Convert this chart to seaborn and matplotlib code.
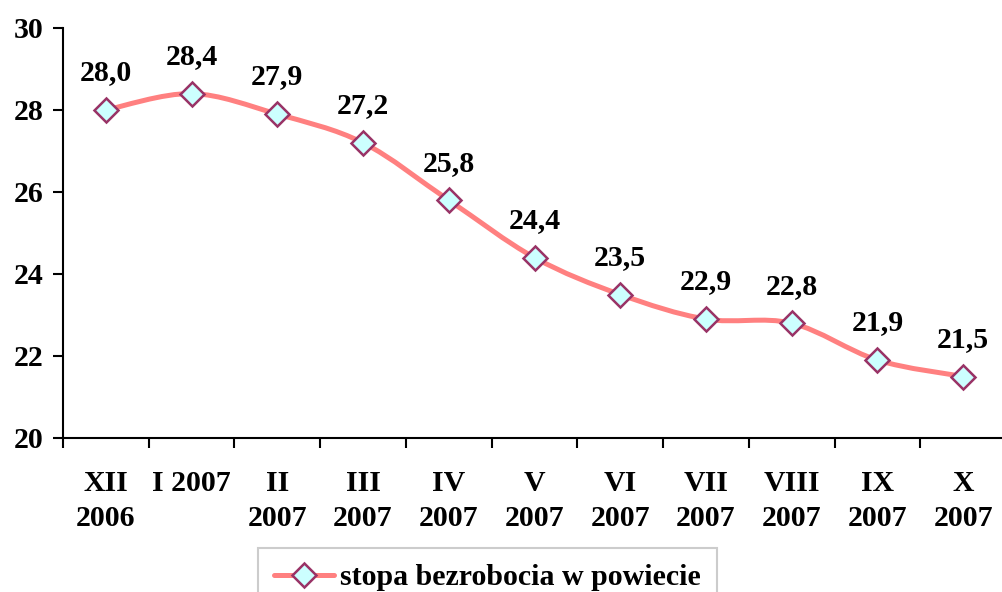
import numpy as np
import pandas as pd
import matplotlib
matplotlib.use("Agg")
import matplotlib.pyplot as plt
from matplotlib.path import Path
from matplotlib.patches import PathPatch
from matplotlib.lines import Line2D
import seaborn as sns

# Data
months = ["XII\n2006", "I 2007", "II\n2007", "III\n2007", "IV\n2007", "V\n2007",
          "VI\n2007", "VII\n2007", "VIII\n2007", "IX\n2007", "X\n2007"]
rate = [28.0, 28.4, 27.9, 27.2, 25.8, 24.4, 23.5, 22.9, 22.8, 21.9, 21.5]
value_labels = ["28,0", "28,4", "27,9", "27,2", "25,8", "24,4", "23,5", "22,9", "22,8", "21,9", "21,5"]
series_name = "stopa bezrobocia w powiecie"

df = pd.DataFrame({"pos": range(len(months)), "rate": rate})

sns.set_style("white")
plt.rcParams["font.family"] = ["Liberation Serif", "DejaVu Serif"]
plt.rcParams["font.weight"] = "bold"
plt.rcParams["text.color"] = "black"
plt.rcParams["xtick.color"] = "black"
plt.rcParams["ytick.color"] = "black"

line_color = "#FF8080"
face_color = "#CCFFFF"
edge_color = "#993366"
fs = 21.5

fig = plt.figure(figsize=(10.03, 5.92), dpi=100)
ax = fig.add_axes([63 / 1003, 154 / 592, 943 / 1003, 410 / 592])

# Smoothed line (Excel-style bezier through the points)
pts = df[["pos", "rate"]].to_numpy(dtype=float)
n = len(pts)
verts = [pts[0]]
codes = [Path.MOVETO]
for i in range(n - 1):
    p0 = pts[i - 1] if i > 0 else pts[i]
    p1 = pts[i]
    p2 = pts[i + 1]
    p3 = pts[i + 2] if i + 2 < n else pts[i + 1]
    c1 = p1 + (p2 - p0) / 6
    c2 = p2 - (p3 - p1) / 6
    verts += [c1, c2, p2]
    codes += [Path.CURVE4] * 3
ax.add_patch(PathPatch(Path(verts, codes), facecolor="none", edgecolor=line_color,
                       lw=3.6, capstyle="round", zorder=2))

sns.lineplot(data=df, x="pos", y="rate", ax=ax, linestyle="none", marker="D",
             markersize=12, markerfacecolor=face_color, markeredgecolor=edge_color,
             markeredgewidth=1.8, legend=False, zorder=3)

for x, y, lab in zip(df["pos"], df["rate"], value_labels):
    ax.annotate(lab, (x, y), xytext=(0, 17), textcoords="offset points",
                ha="center", va="bottom", fontsize=fs, fontweight="bold", color="black")

ax.set_xlim(-0.5, len(months) - 0.5)
ax.set_ylim(20, 30)
ax.set_yticks([20, 22, 24, 26, 28, 30])
ax.tick_params(axis="y", which="major", direction="out", length=7, width=1.5,
               pad=7, labelsize=fs, left=True)

# category boundaries as major ticks, labels on minor ticks
ax.set_xticks(np.arange(-0.5, len(months), 1.0))
ax.set_xticklabels([])
ax.set_xticks(np.arange(len(months)), minor=True)
ax.set_xticklabels(months, minor=True, fontsize=fs, fontweight="bold", linespacing=1.4)
ax.tick_params(axis="x", which="major", direction="out", length=7, width=1.5, bottom=True)
ax.tick_params(axis="x", which="minor", length=0, pad=23)
for t in ax.get_yticklabels():
    t.set_fontweight("bold")

ax.set_xlabel("")
ax.set_ylabel("")
sns.despine(ax=ax)
for s in ["left", "bottom"]:
    ax.spines[s].set_linewidth(1.5)
    ax.spines[s].set_color("black")
ax.spines["bottom"].set_clip_on(False)

handle = Line2D([], [], color=line_color, lw=3.6, marker="D", markersize=12,
                markerfacecolor=face_color, markeredgecolor=edge_color, markeredgewidth=1.8)
leg = fig.legend([handle], [series_name], loc="upper left",
                 bbox_to_anchor=(258 / 1003, 1 - 548 / 592), borderaxespad=0,
                 frameon=True, fancybox=False, edgecolor="#C0C0C0", handlelength=2.0,
                 handletextpad=0.2, borderpad=0.55, prop={"size": fs, "weight": "bold"})
leg.get_frame().set_linewidth(1.5)

fig.savefig("out.png", dpi=100)
